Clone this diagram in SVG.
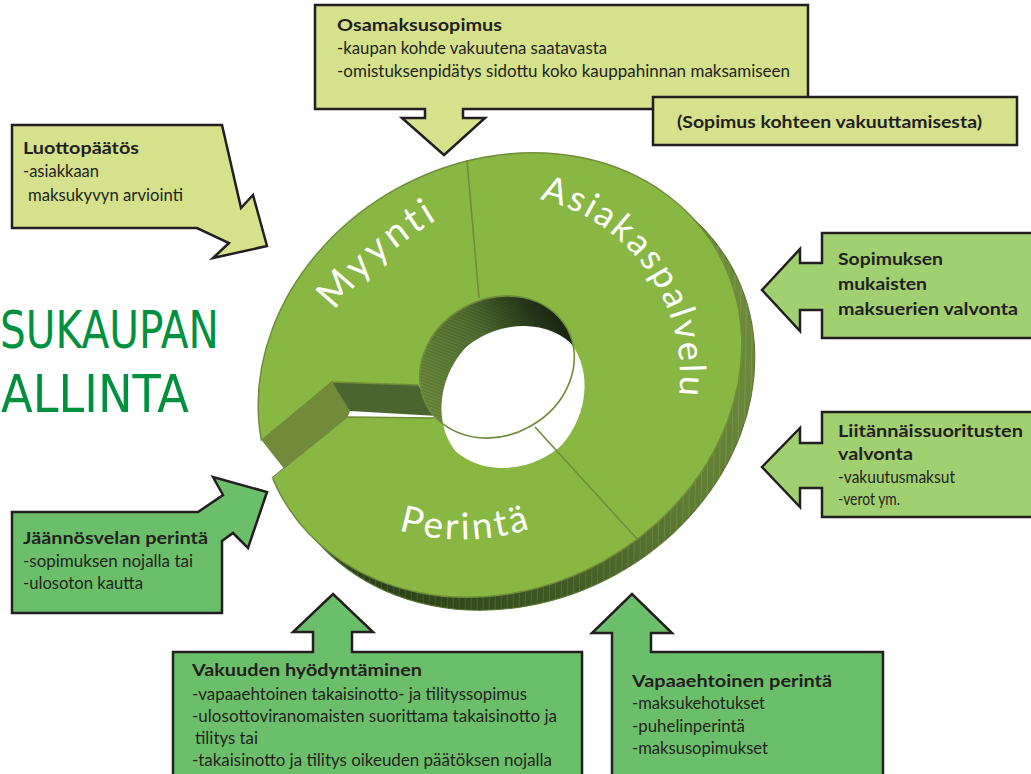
<svg xmlns="http://www.w3.org/2000/svg" width="1031" height="774" viewBox="0 0 1031 774">
<style>
.box{stroke:#231f20;stroke-width:2.5;stroke-linejoin:miter}
.c1{fill:#d5e28b}.c2{fill:#a1d070}.c3{fill:#6cbf6a}
.t{font-family:Lato,"Liberation Sans",sans-serif;font-size:16.5px;fill:#231f20}
.b{font-weight:bold;font-size:17px}
.title{font-family:"DejaVu Sans","Liberation Sans",sans-serif;font-size:52px;fill:#00913f}
.rt{font-family:Lato,"Liberation Sans",sans-serif;fill:#fff}
.edge{fill:none;stroke:#6f8d3a;stroke-width:1.6}
</style>
<defs>
<linearGradient id="sideGrad" gradientUnits="userSpaceOnUse" x1="300" y1="0" x2="760" y2="0">
<stop offset="0" stop-color="#2c4219"/><stop offset="0.32" stop-color="#3f5a24"/><stop offset="0.65" stop-color="#5f7d32"/><stop offset="1" stop-color="#6e8c3c"/>
</linearGradient>
<linearGradient id="wallGrad" gradientUnits="userSpaceOnUse" x1="420" y1="0" x2="575" y2="0">
<stop offset="0" stop-color="#6a8a3c"/><stop offset="0.5" stop-color="#4f6d31"/><stop offset="0.85" stop-color="#26371a"/><stop offset="1" stop-color="#1a2610"/>
</linearGradient>
<pattern id="hatch" width="6" height="6" patternUnits="userSpaceOnUse" patternTransform="rotate(30)">
<line x1="0" y1="0" x2="0" y2="6" stroke="#ffffff" stroke-opacity="0.3" stroke-width="0.7"/>
</pattern>
<pattern id="hatch2" width="3" height="3" patternUnits="userSpaceOnUse" patternTransform="rotate(-40)">
<line x1="0" y1="0" x2="0" y2="3" stroke="#1d2b12" stroke-opacity="0.45" stroke-width="0.8"/>
</pattern>
<clipPath id="rimClip"><ellipse cx="497" cy="367" rx="80" ry="68" transform="rotate(-29 497 367)"/></clipPath>
<path id="pMy" d="M 302.1 357.7 A 390 390 0 0 1 506.4 186.2"/>
<path id="pAs" d="M 531.3 197.7 A 180 180 0 0 1 677.3 406.3"/>
<path id="pPe" d="M 368.4 518.7 A 221.5 221.5 0 0 0 562.6 515.4"/>
</defs>

<g id="title">
<text class="title" x="0" y="348" textLength="219" lengthAdjust="spacingAndGlyphs">SUKAUPAN</text>
<text class="title" x="1" y="412" textLength="188" lengthAdjust="spacingAndGlyphs">ALLINTA</text>
</g>

<g id="ring">
<g fill="url(#sideGrad)">
<ellipse cx="500" cy="375" rx="250" ry="213" transform="translate(4 4) rotate(-29 500 375)"/>
<ellipse cx="500" cy="375" rx="250" ry="213" transform="translate(8 8) rotate(-29 500 375)"/>
<ellipse cx="500" cy="375" rx="250" ry="213" transform="translate(13 13) rotate(-29 500 375)" stroke="#56722e" stroke-width="1"/>
</g>
<ellipse cx="500" cy="375" rx="250" ry="213" transform="translate(13 13) rotate(-29 500 375)" fill="url(#hatch)"/>
<ellipse cx="500" cy="375" rx="250" ry="213" transform="rotate(-29 500 375)" fill="#89b743" stroke="#6f8d3a" stroke-width="1.5"/>
<!-- slot between Myynti and Perintä -->
<polygon points="262,440 332,382 418,385 440,416 432,418 347,417 272,479 264,470 257,446" fill="#ffffff"/>
<polygon points="262,440 332,382 350,410 347,417 284,468" fill="#718b3a" stroke="#6a8536" stroke-width="1"/>
<polygon points="332,382 418,385 438,416 350,411" fill="#4b6530"/>
<polyline class="edge" points="262,440 332,382 418,385"/>
<polyline class="edge" points="272,478 347,417 434,418"/>
<!-- hole -->
<ellipse cx="497" cy="367" rx="80" ry="68" transform="rotate(-29 497 367)" fill="url(#wallGrad)"/>
<ellipse cx="497" cy="367" rx="80" ry="68" transform="rotate(-29 497 367)" fill="url(#hatch2)"/>
<ellipse cx="497" cy="367" rx="80" ry="68" transform="translate(16 30) rotate(-29 497 367)" fill="#ffffff" clip-path="url(#rimClip)"/>
<ellipse cx="497" cy="367" rx="80" ry="68" transform="rotate(-29 497 367)" class="edge"/>
<!-- dividers -->
<line class="edge" x1="467" y1="160" x2="479" y2="298" stroke-width="2"/>
<line class="edge" x1="535" y1="427" x2="638" y2="540" stroke-width="2"/>
<text class="rt" font-size="38" letter-spacing="4"><textPath href="#pMy" startOffset="47%" text-anchor="middle">Myynti</textPath></text>
<text class="rt" font-size="36" letter-spacing="2.5"><textPath href="#pAs" startOffset="50%" text-anchor="middle">Asiakaspalvelu</textPath></text>
<text class="rt" font-size="37" letter-spacing="3"><textPath href="#pPe" startOffset="50%" text-anchor="middle">Perintä</textPath></text>
</g>

<g id="connectors"></g>

<g id="osamaksusopimus">
<polygon class="box c1" points="315,5 808,5 808,109 463,109 463,118 485,118 444,155 402,118 425,118 425,109 315,109"/>
<text class="t b" x="337" y="31" textLength="165" lengthAdjust="spacingAndGlyphs">Osamaksusopimus</text>
<text class="t" x="337" y="54" textLength="270" lengthAdjust="spacingAndGlyphs">-kaupan kohde vakuutena saatavasta</text>
<text class="t" x="337" y="77" textLength="453" lengthAdjust="spacingAndGlyphs">-omistuksenpidätys sidottu koko kauppahinnan maksamiseen</text>
</g>

<g id="vakuuttaminen">
<rect class="box c1" x="653" y="97" width="364" height="48"/>
<text class="t b" x="677" y="128" textLength="305" lengthAdjust="spacingAndGlyphs">(Sopimus kohteen vakuuttamisesta)</text>
</g>

<g id="luottopaatos">
<polygon class="box c1" points="12,125 222,125 241,208 253,195 267,246 213,258 229,243 197,228 12,228"/>
<text class="t b" x="23" y="154" textLength="116" lengthAdjust="spacingAndGlyphs">Luottopäätös</text>
<text class="t" x="23" y="177" textLength="76" lengthAdjust="spacingAndGlyphs">-asiakkaan</text>
<text class="t" x="28" y="201" textLength="155" lengthAdjust="spacingAndGlyphs">maksukyvyn arviointi</text>
</g>

<g id="maksuerien-valvonta">
<polygon class="box c2" points="822,233 1040,233 1040,338 822,338 822,310 800,310 800,331 762,290 800,249 800,263 822,263"/>
<text class="t b" x="838" y="265" textLength="105" lengthAdjust="spacingAndGlyphs">Sopimuksen</text>
<text class="t b" x="838" y="290" textLength="89" lengthAdjust="spacingAndGlyphs">mukaisten</text>
<text class="t b" x="838" y="315" textLength="180" lengthAdjust="spacingAndGlyphs">maksuerien valvonta</text>
</g>

<g id="liitannaissuoritukset">
<polygon class="box c2" points="822,412 1040,412 1040,517 822,517 822,488 800,488 800,507 762,467 800,428 800,443 822,443"/>
<text class="t b" x="838" y="437" textLength="185" lengthAdjust="spacingAndGlyphs">Liitännäissuoritusten</text>
<text class="t b" x="838" y="460" textLength="75" lengthAdjust="spacingAndGlyphs">valvonta</text>
<text class="t" x="838" y="483" textLength="117" lengthAdjust="spacingAndGlyphs">-vakuutusmaksut</text>
<text class="t" x="838" y="505" textLength="62" lengthAdjust="spacingAndGlyphs">-verot ym.</text>
</g>

<g id="jaannosvelan-perinta">
<polygon class="box c3" points="12,512 198,512 223,495 213,477 267,492 248,548 233,533 222,541 222,613 12,613"/>
<text class="t b" x="23" y="544" textLength="185" lengthAdjust="spacingAndGlyphs">Jäännösvelan perintä</text>
<text class="t" x="23" y="567" textLength="170" lengthAdjust="spacingAndGlyphs">-sopimuksen nojalla tai</text>
<text class="t" x="23" y="589" textLength="120" lengthAdjust="spacingAndGlyphs">-ulosoton kautta</text>
</g>

<g id="vakuuden-hyodyntaminen">
<polygon class="box c3" points="173,652 313,652 313,632 293,632 333,594 373,632 352,632 352,652 582,652 582,785 173,785"/>
<text class="t b" x="192" y="676" textLength="230" lengthAdjust="spacingAndGlyphs">Vakuuden hyödyntäminen</text>
<text class="t" x="192" y="700" textLength="335" lengthAdjust="spacingAndGlyphs">-vapaaehtoinen takaisinotto- ja tilityssopimus</text>
<text class="t" x="192" y="722" textLength="365" lengthAdjust="spacingAndGlyphs">-ulosottoviranomaisten suorittama takaisinotto ja</text>
<text class="t" x="195" y="744" textLength="63" lengthAdjust="spacingAndGlyphs">tilitys tai</text>
<text class="t" x="192" y="766" textLength="360" lengthAdjust="spacingAndGlyphs">-takaisinotto ja tilitys oikeuden päätöksen nojalla</text>
</g>

<g id="vapaaehtoinen-perinta">
<polygon class="box c3" points="612,785 612,633 592,633 632,594 672,633 651,633 651,652 883,652 883,785"/>
<text class="t b" x="632" y="687" textLength="200" lengthAdjust="spacingAndGlyphs">Vapaaehtoinen perintä</text>
<text class="t" x="632" y="709" textLength="133" lengthAdjust="spacingAndGlyphs">-maksukehotukset</text>
<text class="t" x="632" y="732" textLength="113" lengthAdjust="spacingAndGlyphs">-puhelinperintä</text>
<text class="t" x="632" y="754" textLength="136" lengthAdjust="spacingAndGlyphs">-maksusopimukset</text>
</g>
</svg>
